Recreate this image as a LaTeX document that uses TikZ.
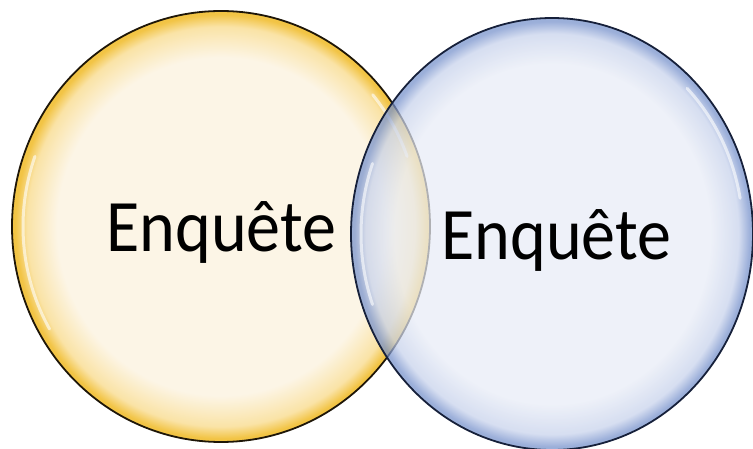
\documentclass[tikz,border=0pt]{standalone}
\usepackage{fontspec}
\setmainfont{Carlito}
\usetikzlibrary{shapes.geometric}
\definecolor{ycore}{HTML}{FCF5E6}
\definecolor{ymid}{HTML}{FAE3A6}
\definecolor{yrim}{HTML}{F2C445}
\definecolor{bcore}{HTML}{E8ECF6}
\definecolor{bmid}{HTML}{C6D1EB}
\definecolor{brim}{HTML}{7590CB}
\definecolor{ylineC}{HTML}{1E1608}
\definecolor{blineC}{HTML}{16203A}
\pgfdeclareradialshading{ybub}{\pgfpoint{0bp}{0bp}}{color(0bp)=(ycore); color(19.6bp)=(ycore); color(23.2bp)=(ymid); color(24.6bp)=(yrim); color(25bp)=(yrim); color(50bp)=(yrim)}
\pgfdeclareradialshading{bbub}{\pgfpoint{0bp}{0bp}}{color(0bp)=(bcore); color(19.6bp)=(bcore); color(23.2bp)=(bmid); color(24.6bp)=(brim); color(25bp)=(brim); color(50bp)=(brim)}
\begin{document}
\begin{tikzpicture}[x=1pt,y=-1pt,
  bubble/.style={ellipse, inner sep=0pt, outer sep=0pt, line width=1.8pt},
  lbl/.style={inner sep=0pt, anchor=base, font=\fontsize{74}{80}\selectfont, xscale=0.92},
  gloss/.style={white, line width=3pt, opacity=0.6, line cap=round}]
\useasboundingbox (0,0) rectangle (753,449);
\node[bubble, minimum width=418pt, minimum height=431pt, shading=ybub, draw=ylineC] (A) at (221,226.5) {};
\draw[gloss] (A.center) ++(200:198 and 205) arc[start angle=200, end angle=150, x radius=198, y radius=205];
\draw[gloss] (A.center) ++(-20:198 and 205) arc[start angle=-20, end angle=-40, x radius=198, y radius=205];
\node[bubble, minimum width=402pt, minimum height=432pt, shading=bbub, fill opacity=0.72, draw=blineC] (B) at (552,234) {};
\draw[gloss] (B.center) ++(-10:191 and 206) arc[start angle=-10, end angle=-45, x radius=191, y radius=206];
\draw[gloss] (B.center) ++(160:191 and 206) arc[start angle=160, end angle=200, x radius=191, y radius=206];
\node[lbl] (tA) at (221.5,252) {Enquête};
\node[lbl] (tB) at (556.5,260) {Enquête};
\end{tikzpicture}
\end{document}
